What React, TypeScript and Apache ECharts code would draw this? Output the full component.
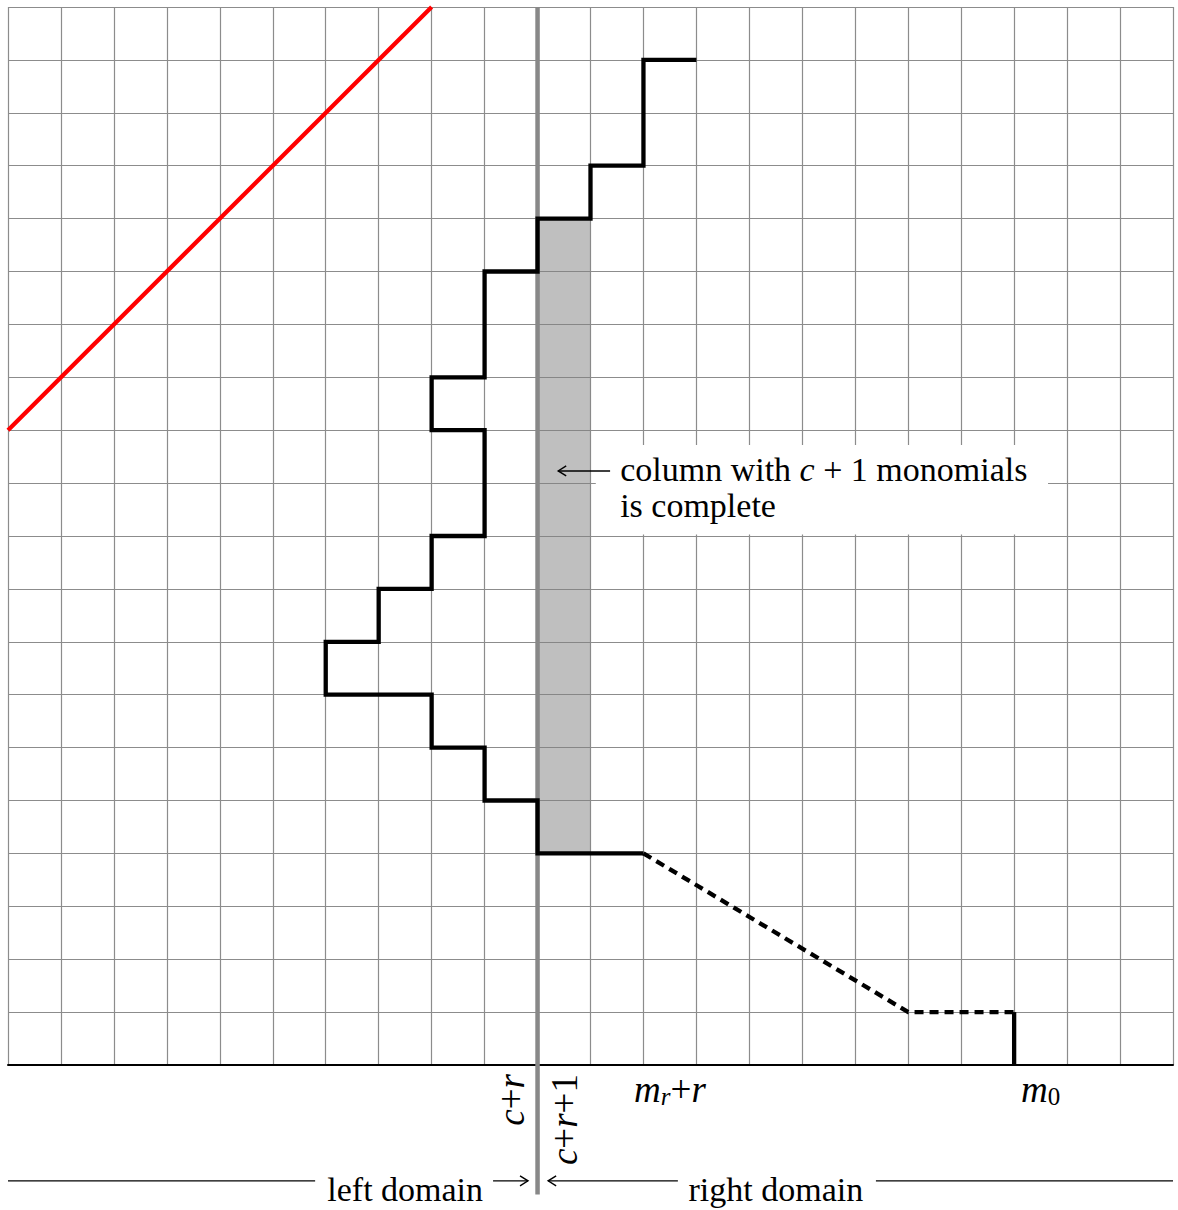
import React, { useEffect, useRef } from "react";
import * as echarts from "echarts";

// ---- data ----
const X_MIN = 0;
const X_MAX = 22;
const Y_MIN = 0;
const Y_MAX = 20;

const redLine = [[0, 12], [8, 20]];
const staircase = [
  [12, 4], [10, 4], [10, 5], [9, 5], [9, 6], [8, 6], [8, 7], [6, 7], [6, 8],
  [7, 8], [7, 9], [8, 9], [8, 10], [9, 10], [9, 12], [8, 12], [8, 13], [9, 13],
  [9, 15], [10, 15], [10, 16], [11, 16], [11, 17], [12, 17], [12, 19], [13, 19],
];
const dashedTail = [[12, 4], [17, 1], [19, 1]];
const endDrop = [[19, 1], [19, 0]];
const divider = [[10, -2.45], [10, 20]];
const completeColumn = [[10, 4, 11, 16]];
const noteBox = [[11.1, 10.03, 19.64, 11.72]];

const rotatedTicks = [9.5, 10.5];
const rotatedLabels = ["{i|c}{n|+}{i|r}", "{i|c}{n|+}{i|r}{n|+1}"];
const flatTicks = [12.5, 19.5];
const flatLabels = ["{i|m}{s|r}{n|+}{i|r}", "{i|m}{z|0}"];

const noteLines = ["column with {i|c} + 1 monomials", "is complete"];
const domainLabels = ["left domain", "right domain"];

const FONT = "Liberation Serif";
const FS = 34;
const LFS = 37;

const rich = {
  i: { fontFamily: FONT, fontStyle: "italic", fontSize: LFS, color: "#000", lineHeight: 40 },
  n: { fontFamily: FONT, fontSize: LFS, color: "#000", lineHeight: 40 },
  s: { fontFamily: FONT, fontStyle: "italic", fontSize: 25, color: "#000", lineHeight: 25, verticalAlign: "bottom", padding: [10, 0, 0, 0] },
  z: { fontFamily: FONT, fontSize: 25, color: "#000", lineHeight: 25, verticalAlign: "bottom", padding: [10, 0, 0, 0] },
};

function rectSeries(data: number[][], fill: string) {
  return {
    type: "custom",
    xAxisIndex: 0,
    yAxisIndex: 0,
    data,
    renderItem: (_p: any, api: any) => {
      const a = api.coord([api.value(0), api.value(3)]);
      const b = api.coord([api.value(2), api.value(1)]);
      return {
        type: "rect",
        shape: { x: a[0], y: a[1], width: b[0] - a[0], height: b[1] - a[1] },
        style: { fill },
      };
    },
  };
}

function lineSeries(data: number[][], color: string, width: number, type: any = "solid", clip = true) {
  return {
    type: "line",
    xAxisIndex: 0,
    yAxisIndex: 0,
    data,
    showSymbol: false,
    symbol: "none",
    clip,
    lineStyle: { color, width, type, cap: "butt", join: "miter" },
  };
}

export default function App() {
  const ref = useRef<HTMLDivElement>(null);
  useEffect(() => {
    if (!ref.current) return;
    const chart = echarts.init(ref.current, null, { renderer: "svg" });
    const labelAxis = (ticks: number[], labels: string[], rotate: number, margin: number) => ({
      type: "value",
      min: X_MIN,
      max: X_MAX,
      position: "bottom",
      gridIndex: 0,
      axisLine: { show: false },
      axisTick: { show: false },
      splitLine: { show: false },
      axisLabel: {
        show: true,
        customValues: ticks,
        rotate,
        margin,
        formatter: (v: number) => {
          const k = ticks.findIndex((t) => Math.abs(t - v) < 1e-6);
          return k >= 0 ? labels[k] : "";
        },
        rich,
      },
    });
    chart.setOption({
      animation: false,
      grid: { left: 8, top: 7, width: 1165, height: 1058, containLabel: false },
      xAxis: [
        {
          type: "value",
          min: X_MIN,
          max: X_MAX,
          interval: 1,
          position: "bottom",
          axisLine: { show: true, lineStyle: { color: "#000", width: 2 } },
          axisTick: { show: false },
          axisLabel: { show: false },
          splitLine: { show: true, lineStyle: { color: "#8c8c8c", width: 1.2 } },
        },
        labelAxis(rotatedTicks, rotatedLabels, 90, 9),
        labelAxis(flatTicks, flatLabels, 0, 4),
      ],
      yAxis: {
        type: "value",
        min: Y_MIN,
        max: Y_MAX,
        interval: 1,
        axisLine: { show: false },
        axisTick: { show: false },
        axisLabel: { show: false },
        splitLine: { show: true, showMinLine: false, lineStyle: { color: "#8c8c8c", width: 1.2 } },
      },
      series: [
        rectSeries(completeColumn, "rgba(128,128,128,0.5)"),
        rectSeries(noteBox, "#ffffff"),
        lineSeries(divider, "#888888", 4.5, "solid", false),
        lineSeries(redLine, "#ff0000", 4.3),
        lineSeries(staircase, "#000000", 4.3),
        lineSeries(dashedTail, "#000000", 4.3, [9, 6]),
        lineSeries(endDrop, "#000000", 4.3),
      ],
    });

    const P = (x: number, y: number) => chart.convertToPixel({ gridIndex: 0 }, [x, y]) as number[];
    const arrowHead = (tip: number[], dir: number) => ({
      type: "polyline",
      z: 100,
      shape: { points: [[tip[0] - dir * 8, tip[1] - 5], tip, [tip[0] - dir * 8, tip[1] + 5]] },
      style: { stroke: "#000", lineWidth: 1.4, fill: "none" },
    });
    const hline = (a: number[], b: number[]) => ({
      type: "line",
      z: 100,
      shape: { x1: a[0], y1: a[1], x2: b[0], y2: b[1] },
      style: { stroke: "#000", lineWidth: 1.4 },
    });
    const textStyle = { fontFamily: FONT, fontSize: FS, fill: "#000" };

    const noteArrowTail = P(11.37, 11.23);
    const noteArrowTip = P(10.39, 11.23);
    const note1 = P(11.56, 11.25);
    const note2 = P(11.56, 10.57);
    const yDom = -2.19;
    const lLineA = P(0, yDom), lLineB = P(5.8, yDom);
    const lArrA = P(9.16, yDom), lArrB = P(9.82, yDom);
    const rArrA = P(12.65, yDom), rArrB = P(10.2, yDom);
    const rLineA = P(16.39, yDom), rLineB = P(22, yDom);
    const lText = P(7.5, -2.36), rText = P(14.5, -2.36);

    chart.setOption({
      graphic: [
        hline(noteArrowTail, noteArrowTip),
        arrowHead(noteArrowTip, -1),
        {
          type: "text",
          z: 100,
          x: note1[0],
          y: note1[1],
          style: {
            text: noteLines[0],
            ...textStyle,
            verticalAlign: "middle",
            align: "left",
            rich: { i: { fontFamily: FONT, fontStyle: "italic", fontSize: FS, fill: "#000" } },
          },
        },
        { type: "text", z: 100, x: note2[0], y: note2[1], style: { text: noteLines[1], ...textStyle, verticalAlign: "middle", align: "left" } },
        hline(lLineA, lLineB),
        hline(lArrA, lArrB),
        arrowHead(lArrB, 1),
        { type: "text", z: 100, x: lText[0], y: lText[1], style: { text: domainLabels[0], ...textStyle, align: "center", verticalAlign: "middle" } },
        hline(rArrA, rArrB),
        arrowHead(rArrB, -1),
        { type: "text", z: 100, x: rText[0], y: rText[1], style: { text: domainLabels[1], ...textStyle, align: "center", verticalAlign: "middle" } },
        hline(rLineA, rLineB),
      ],
    });
    return () => chart.dispose();
  }, []);
  return (
    <div
      ref={ref}
      style={{ position: "absolute", left: 0, top: 0, width: 1178, height: 1210, background: "#fff" }}
    />
  );
}
